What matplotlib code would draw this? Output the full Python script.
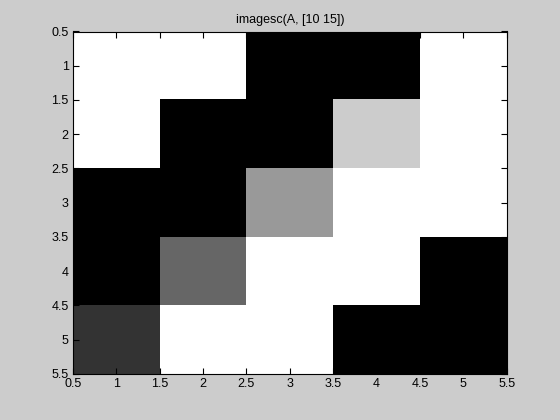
import numpy as np
import matplotlib
matplotlib.use("Agg")
import matplotlib.pyplot as plt

# magic(5)
A = np.array([
    [17, 24, 1, 8, 15],
    [23, 5, 7, 14, 16],
    [4, 6, 13, 20, 22],
    [10, 12, 19, 21, 3],
    [11, 18, 25, 2, 9],
])
clim = (10, 15)
ticks = [0.5, 1, 1.5, 2, 2.5, 3, 3.5, 4, 4.5, 5, 5.5]
tick_labels = ["0.5", "1", "1.5", "2", "2.5", "3", "3.5", "4", "4.5", "5", "5.5"]

plt.rcParams["font.family"] = ["Liberation Sans", "DejaVu Sans"]
fig = plt.figure(figsize=(5.6, 4.2), dpi=100, facecolor=(0.8, 0.8, 0.8))
# default MATLAB axes position
ax = fig.add_axes([0.13, 0.11, 0.775, 0.815])

ax.imshow(A, cmap="gray", vmin=clim[0], vmax=clim[1], aspect="auto",
          interpolation="nearest", extent=(0.5, 5.5, 5.5, 0.5))
ax.set_xlim(0.5, 5.5)
ax.set_ylim(5.5, 0.5)
ax.set_xticks(ticks)
ax.set_xticklabels(tick_labels)
ax.set_yticks(ticks)
ax.set_yticklabels(tick_labels)
ax.tick_params(direction="in", length=4.5, width=0.8, labelsize=9,
               top=True, right=True, pad=3)
for s in ax.spines.values():
    s.set_linewidth(0.8)
ax.set_title("imagesc(A, [10 15])", fontsize=9, pad=6)

fig.savefig("out.png", dpi=100, facecolor=fig.get_facecolor())
